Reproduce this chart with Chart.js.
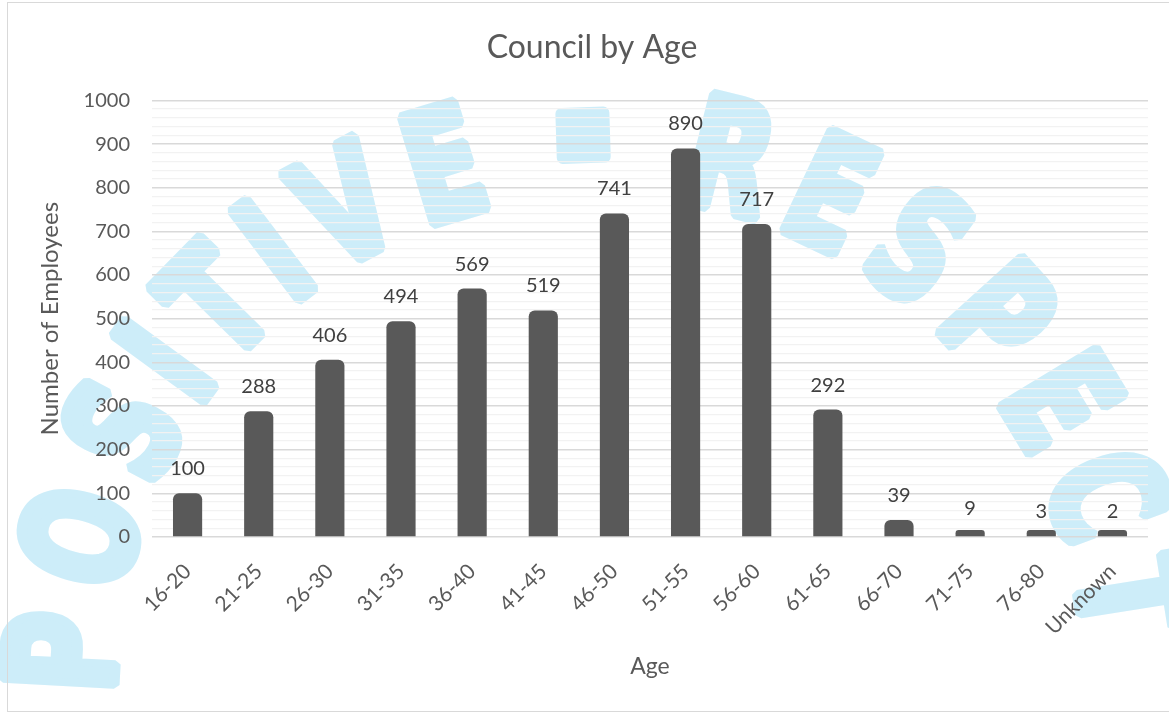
<!DOCTYPE html>
<html>
<head>
<meta charset="utf-8">
<script src="https://cdn.jsdelivr.net/npm/chart.js@4/dist/chart.umd.min.js"></script>
<style>
  html, body { margin: 0; padding: 0; background: #fff; }
  canvas { display: block; }
</style>
</head>
<body>
<canvas id="myChart" width="1169" height="713"></canvas>
<script>
// chart data
var ageGroups = ["16-20", "21-25", "26-30", "31-35", "36-40", "41-45", "46-50",
                 "51-55", "56-60", "61-65", "66-70", "71-75", "76-80", "Unknown"];
var employees = [100, 288, 406, 494, 569, 519, 741, 890, 717, 292, 39, 9, 3, 2];
var watermarkText = "POSITIVE \u25AA RESPECT";

var textColor = "#595959";
var fontName = "Lato";

// big arched watermark behind the grid
var watermark = {
    id: "watermark",
    beforeDraw: function(chart) {
        var ctx = chart.ctx;
        var cx = 600, cy = 680, r = 485;
        var startAng = 177 * Math.PI / 180, endAng = 9 * Math.PI / 180;
        var sx = 0.72;
        var dot = "\u25AA";
        ctx.save();
        ctx.font = "bold 152px 'DejaVu Sans'";
        ctx.fillStyle = "#cdedf9";
        ctx.strokeStyle = "#cdedf9";
        ctx.lineWidth = 11;
        ctx.lineJoin = "bevel";
        ctx.textAlign = "center";
        ctx.textBaseline = "alphabetic";
        var chars = watermarkText.split("");
        var widths = chars.map(function(c) {
            return c === dot ? 60 : ctx.measureText(c).width * sx;
        });
        var centers = [];
        var acc = 0;
        for (var i = 0; i < chars.length; i++) {
            centers.push(acc + widths[i] / 2);
            acc += widths[i];
        }
        var first = centers[0], last = centers[centers.length - 1];
        for (var j = 0; j < chars.length; j++) {
            if (chars[j] === " ") continue;
            var a = startAng - (centers[j] - first) / (last - first) * (startAng - endAng);
            var px = cx + r * Math.cos(a);
            var py = cy - r * Math.sin(a);
            ctx.save();
            ctx.translate(px, py);
            ctx.rotate(Math.PI / 2 - a);
            if (chars[j] === dot) {
                // separator block
                ctx.beginPath();
                ctx.roundRect(-27, -88, 54, 56, 6);
                ctx.fill();
            } else {
                ctx.scale(sx, 1);
                ctx.fillText(chars[j], 0, 0);
                ctx.strokeText(chars[j], 0, 0);
            }
            ctx.restore();
        }
        ctx.restore();
    },
    afterDraw: function(chart) {
        var ctx = chart.ctx;
        ctx.save();
        ctx.strokeStyle = "#d9d9d9";
        ctx.lineWidth = 1;
        ctx.strokeRect(7.5, 2.5, 1300, 709);
        ctx.restore();
    }
};

// value labels over the bars
var barLabels = {
    id: "barLabels",
    afterDatasetsDraw: function(chart) {
        var ctx = chart.ctx;
        var meta = chart.getDatasetMeta(0);
        var yScale = chart.scales.y;
        ctx.save();
        ctx.font = "20px " + fontName;
        ctx.fillStyle = "#404040";
        ctx.textAlign = "center";
        ctx.textBaseline = "alphabetic";
        meta.data.forEach(function(bar, i) {
            ctx.fillText(String(employees[i]), bar.x, yScale.getPixelForValue(employees[i]) - 18);
        });
        ctx.restore();
    }
};

var chart = new Chart(document.getElementById("myChart").getContext("2d"), {
    type: "bar",
    data: {
        labels: ageGroups,
        datasets: [
            {
                label: "Employees",
                data: employees,
                backgroundColor: "#595959",
                barPercentage: 0.41,
                categoryPercentage: 1,
                borderRadius: { topLeft: 6, topRight: 6 },
                borderSkipped: "bottom",
                minBarLength: 7
            }
        ]
    },
    options: {
        responsive: false,
        animation: false,
        layout: { padding: { left: 36, right: 21, top: 0, bottom: 30 } },
        plugins: {
            legend: { display: false },
            tooltip: { enabled: false },
            title: {
                display: true,
                text: "Council by Age",
                color: textColor,
                font: { family: fontName, size: 32, weight: "normal" },
                padding: { top: 28, bottom: 34 }
            }
        },
        scales: {
            y: {
                min: 0,
                max: 1000,
                border: { display: false },
                grid: {
                    drawTicks: false,
                    color: function(c) {
                        return c.tick && c.tick.value % 100 === 0 ? "#d9d9d9" : "#f2f2f2";
                    },
                    lineWidth: function(c) {
                        return c.tick && c.tick.value % 100 === 0 ? 1.5 : 1.3;
                    }
                },
                ticks: {
                    stepSize: 20,
                    autoSkip: false,
                    padding: 22,
                    color: textColor,
                    font: { family: fontName, size: 20 },
                    callback: function(v) { return v % 100 === 0 ? v : ""; }
                },
                title: {
                    display: true,
                    text: "Number of Employees",
                    color: textColor,
                    font: { family: fontName, size: 24 },
                    padding: 0
                },
                afterFit: function(s) { s.width = 116; }
            },
            x: {
                border: { display: false },
                grid: { display: false },
                ticks: {
                    color: textColor,
                    font: { family: fontName, size: 21 },
                    minRotation: 45,
                    maxRotation: 45,
                    padding: 14
                },
                title: {
                    display: true,
                    text: "Age",
                    color: textColor,
                    font: { family: fontName, size: 23 },
                    padding: { top: 0, bottom: 3 }
                },
                afterFit: function(s) { s.height = 146; }
            }
        }
    },
    plugins: [watermark, barLabels]
});
</script>
</body>
</html>
